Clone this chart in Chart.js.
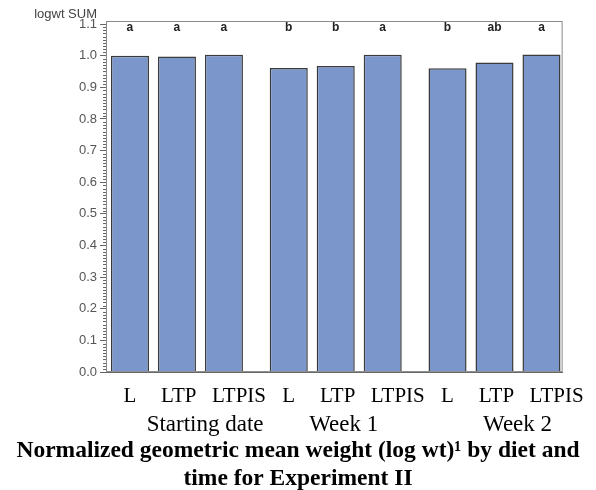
<!DOCTYPE html>
<html lang="en">
<head>
<meta charset="UTF-8" />
<title>Normalized geometric mean weight</title>
<script src="https://cdn.jsdelivr.net/npm/chart.js"></script>
<style>
  html, body { margin: 0; padding: 0; background: #fff; }
  .wrap { width: 596px; height: 490px; }
</style>
</head>
<body>
<div class="wrap"><canvas id="chart"></canvas></div>
<script>
  // data
  const times = ['Starting date', 'Week 1', 'Week 2'];
  const diets = ['L', 'LTP', 'LTPIS'];
  const valuesL = [1.000, 0.961, 0.960];
  const valuesLTP = [0.997, 0.967, 0.978];
  const valuesLTPIS = [1.003, 1.003, 1.004];
  const lettersL = ['a', 'b', 'b'];
  const lettersLTP = ['a', 'b', 'ab'];
  const lettersLTPIS = ['a', 'a', 'a'];
  const yTicks = [0.0, 0.1, 0.2, 0.3, 0.4, 0.5, 0.6, 0.7, 0.8, 0.9, 1.0, 1.1];
  const yLabel = 'logwt SUM';
  const titleLines = ['Normalized geometric mean weight (log wt)\u00b9 by diet and', 'time for Experiment II'];

  // layout: bar slots between groups, and the hand-placed label nudges of the original
  const GROUP_STEP = 3.38;
  const X_MIN = -0.51;
  const X_MAX = 2 * GROUP_STEP + 2.45;
  const dietLabelNudge = [0, 0.04, 0.32];
  const timeLabelNudge = [0.6, 0.17, 0.49];

  const series = [valuesL, valuesLTP, valuesLTPIS];
  const letters = [lettersL, lettersLTP, lettersLTPIS];

  const bars = [];
  times.forEach((t, ti) => {
    diets.forEach((d, di) => {
      bars.push({ x: ti * GROUP_STEP + di, y: series[di][ti], di: di, diet: d, letter: letters[di][ti] });
    });
  });

  const serif = '"Liberation Serif", "Times New Roman", serif';
  const sans = '"Liberation Sans", Arial, sans-serif';

  const frameAndMarks = {
    id: 'frameAndMarks',
    afterDatasetsDraw(chart) {
      const { ctx, chartArea } = chart;
      const y = chart.scales.y;
      ctx.save();
      // plot frame
      ctx.strokeStyle = '#8a8a8a';
      ctx.lineWidth = 1;
      ctx.strokeRect(chartArea.left + 0.5, chartArea.top - 2.5, chartArea.width - 1, chartArea.height + 2);
      // minor ticks every 0.01
      ctx.strokeStyle = '#666';
      ctx.beginPath();
      for (let i = 0; i <= 110; i++) {
        if (i % 10 === 0) continue;
        const py = Math.round(y.getPixelForValue(i / 100)) + 0.5;
        ctx.moveTo(chartArea.left - 3, py);
        ctx.lineTo(chartArea.left, py);
      }
      ctx.stroke();
      // significance letters
      const meta = chart.getDatasetMeta(0);
      ctx.fillStyle = '#222';
      ctx.font = 'bold 12px ' + sans;
      ctx.textAlign = 'center';
      ctx.textBaseline = 'middle';
      meta.data.forEach((el, i) => {
        ctx.fillText(bars[i].letter, el.x, chartArea.top + 4);
      });
      // axis label
      ctx.fillStyle = '#444';
      ctx.font = '13px ' + sans;
      ctx.textAlign = 'right';
      ctx.fillText(yLabel, chartArea.left - 9, 14);
      ctx.restore();
    }
  };

  new Chart(document.getElementById('chart'), {
    type: 'bar',
    data: {
      datasets: [{
        data: bars,
        backgroundColor: '#7b96cb',
        borderColor: '#3a3a3a',
        borderWidth: 1.5,
        categoryPercentage: 1,
        barPercentage: 0.81
      }]
    },
    options: {
      responsive: true,
      maintainAspectRatio: false,
      animation: false,
      layout: { padding: { top: 24, right: 0, left: 0, bottom: 0 } },
      plugins: {
        legend: { display: false },
        tooltip: { enabled: false },
        title: {
          display: true,
          position: 'bottom',
          text: titleLines,
          color: '#000',
          font: { family: serif, size: 23.5, weight: 'bold', lineHeight: 1.19 },
          padding: { top: 0, bottom: -3 }
        }
      },
      scales: {
        x: {
          type: 'linear',
          offset: false,
          min: X_MIN,
          max: X_MAX,
          afterBuildTicks: (scale) => { scale.ticks = bars.map(b => ({ value: b.x + dietLabelNudge[b.di] })); },
          afterFit: (scale) => { scale.height = 36; },
          ticks: {
            autoSkip: false,
            maxRotation: 0,
            padding: 12,
            color: '#000',
            font: { family: serif, size: 21 },
            callback: (v, i) => bars[i] ? bars[i].diet : ''
          },
          grid: { display: false, drawTicks: false },
          border: { color: '#666' }
        },
        x2: {
          type: 'linear',
          position: 'bottom',
          offset: false,
          min: X_MIN,
          max: X_MAX,
          afterBuildTicks: (scale) => { scale.ticks = times.map((t, ti) => ({ value: ti * GROUP_STEP + 1 + timeLabelNudge[ti] })); },
          afterFit: (scale) => { scale.height = 29; },
          ticks: {
            autoSkip: false,
            maxRotation: 0,
            padding: 3,
            color: '#000',
            font: { family: serif, size: 23 },
            callback: (v, i) => times[i] || ''
          },
          grid: { display: false, drawTicks: false },
          border: { display: false }
        },
        y: {
          min: 0,
          max: 1.1,
          afterBuildTicks: (scale) => { scale.ticks = yTicks.map(v => ({ value: v })); },
          afterFit: (scale) => { scale.width = 106; },
          ticks: {
            padding: 3,
            color: '#555',
            font: { family: sans, size: 13 },
            callback: (v) => Number(v).toFixed(1)
          },
          grid: { drawOnChartArea: false, tickLength: 6, tickColor: '#666' },
          border: { color: '#666' }
        },
        yRight: {
          position: 'right',
          afterFit: (scale) => { scale.width = 33; },
          ticks: { display: false },
          grid: { display: false, drawTicks: false },
          border: { display: false }
        }
      }
    },
    plugins: [frameAndMarks]
  });
</script>
</body>
</html>
